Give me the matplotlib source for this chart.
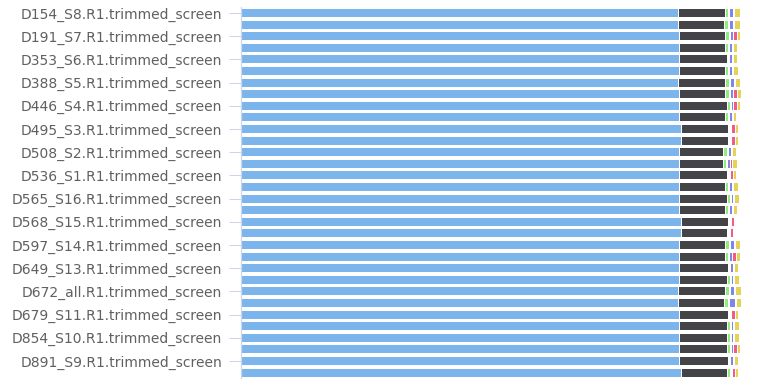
import numpy as np
import matplotlib.pyplot as plt
from matplotlib.lines import Line2D

# sample names, top to bottom; only every other one gets a label
samples = [
    "D154_S8.R1.trimmed_screen", "D154_S8.R2.trimmed_screen",
    "D191_S7.R1.trimmed_screen", "D191_S7.R2.trimmed_screen",
    "D353_S6.R1.trimmed_screen", "D353_S6.R2.trimmed_screen",
    "D388_S5.R1.trimmed_screen", "D388_S5.R2.trimmed_screen",
    "D446_S4.R1.trimmed_screen", "D446_S4.R2.trimmed_screen",
    "D495_S3.R1.trimmed_screen", "D495_S3.R2.trimmed_screen",
    "D508_S2.R1.trimmed_screen", "D508_S2.R2.trimmed_screen",
    "D536_S1.R1.trimmed_screen", "D536_S1.R2.trimmed_screen",
    "D565_S16.R1.trimmed_screen", "D565_S16.R2.trimmed_screen",
    "D568_S15.R1.trimmed_screen", "D568_S15.R2.trimmed_screen",
    "D597_S14.R1.trimmed_screen", "D597_S14.R2.trimmed_screen",
    "D649_S13.R1.trimmed_screen", "D649_S13.R2.trimmed_screen",
    "D672_all.R1.trimmed_screen", "D672_all.R2.trimmed_screen",
    "D679_S11.R1.trimmed_screen", "D679_S11.R2.trimmed_screen",
    "D854_S10.R1.trimmed_screen", "D854_S10.R2.trimmed_screen",
    "D891_S9.R1.trimmed_screen", "D891_S9.R2.trimmed_screen",
]

# percentage of reads per category
human = [87.47, 87.47, 87.67, 87.67, 87.67, 87.67, 87.47, 87.67,
         87.67, 87.67, 87.93, 87.93, 87.67, 87.67, 87.67, 87.67,
         87.67, 87.67, 87.93, 87.93, 87.67, 87.67, 87.67, 87.67,
         87.47, 87.47, 87.67, 87.67, 87.67, 87.67, 87.67, 87.93]
multiple = [9.20, 8.93, 9.00, 9.00, 9.27, 9.00, 9.20, 9.00,
            9.27, 9.00, 9.27, 9.27, 8.47, 8.47, 9.27, 9.00,
            9.27, 9.00, 9.27, 9.00, 9.00, 9.00, 9.53, 9.27,
            9.20, 8.93, 9.53, 9.27, 9.27, 9.27, 9.53, 9.00]
mouse = [0.40, 0.60, 0.60, 0.40, 0.00, 0.33, 0.60, 0.60,
         0.40, 0.40, 0.00, 0.00, 0.67, 0.40, 0.00, 0.33,
         0.40, 0.33, 0.00, 0.00, 0.60, 0.40, 0.00, 0.40,
         0.60, 0.60, 0.00, 0.40, 0.40, 0.40, 0.00, 0.40]
rat = [0.60, 0.60, 0.33, 0.33, 0.47, 0.47, 0.60, 0.33,
       0.33, 0.33, 0.00, 0.00, 0.40, 0.40, 0.00, 0.47,
       0.33, 0.33, 0.00, 0.00, 0.60, 0.33, 0.33, 0.33,
       0.60, 0.93, 0.00, 0.33, 0.33, 0.33, 0.33, 0.00]
phix = [0.00, 0.00, 0.53, 0.00, 0.00, 0.00, 0.00, 0.53,
        0.53, 0.00, 0.53, 0.53, 0.00, 0.33, 0.47, 0.00,
        0.00, 0.00, 0.47, 0.47, 0.00, 0.53, 0.00, 0.00,
        0.00, 0.00, 0.53, 0.00, 0.00, 0.53, 0.00, 0.40]
ecoli = [0.93, 0.93, 0.40, 0.67, 0.67, 0.67, 0.67, 0.67,
         0.40, 0.40, 0.40, 0.40, 0.67, 0.67, 0.40, 0.67,
         0.67, 0.67, 0.00, 0.00, 0.67, 0.67, 0.67, 0.67,
         0.93, 0.93, 0.40, 0.67, 0.67, 0.40, 0.67, 0.40]

series = [human, multiple, mouse, rat, phix, ecoli]
colors = ['#7cb5ec', '#434348', '#90ed7d', '#8085e9', '#f15c80', '#e4d354']
# white spacing (in axis units) left before each segment
spacing = [0.0, 0.2, 0.2, 0.4, 0.2, 0.2]

W, H = 773, 385
fig = plt.figure(figsize=(W / 100, H / 100), dpi=100)
ax = fig.add_axes([241 / W, (H - 378.4) / H, 500 / W, 371.2 / H])

y = np.arange(len(samples))
left = np.zeros(len(samples))
for vals, c, sp in zip(series, colors, spacing):
    vals = np.array(vals)
    left += sp
    ax.barh(y, vals, left=left, height=0.7, color=c, linewidth=0)
    left += vals

ax.set_xlim(0, 100)
ax.set_ylim(len(samples) - 0.5, -0.5)

ax.set_yticks(y[::2])
ax.set_yticklabels(samples[::2], fontsize=10, color='#606060',
                   family='DejaVu Sans')
ax.tick_params(axis='y', length=8.6, width=0.75, color='#ccd6eb', pad=5)
ax.xaxis.set_visible(False)

for s in ['top', 'right', 'bottom']:
    ax.spines[s].set_visible(False)
ax.spines['left'].set_color('#ccd6eb')
ax.spines['left'].set_linewidth(0.9)

fig.add_artist(Line2D([772.5 / W, 772.5 / W], [0, (H - 7) / H],
                      color='#eeeeee', linewidth=0.75))

fig.savefig('out.png', dpi=100)
